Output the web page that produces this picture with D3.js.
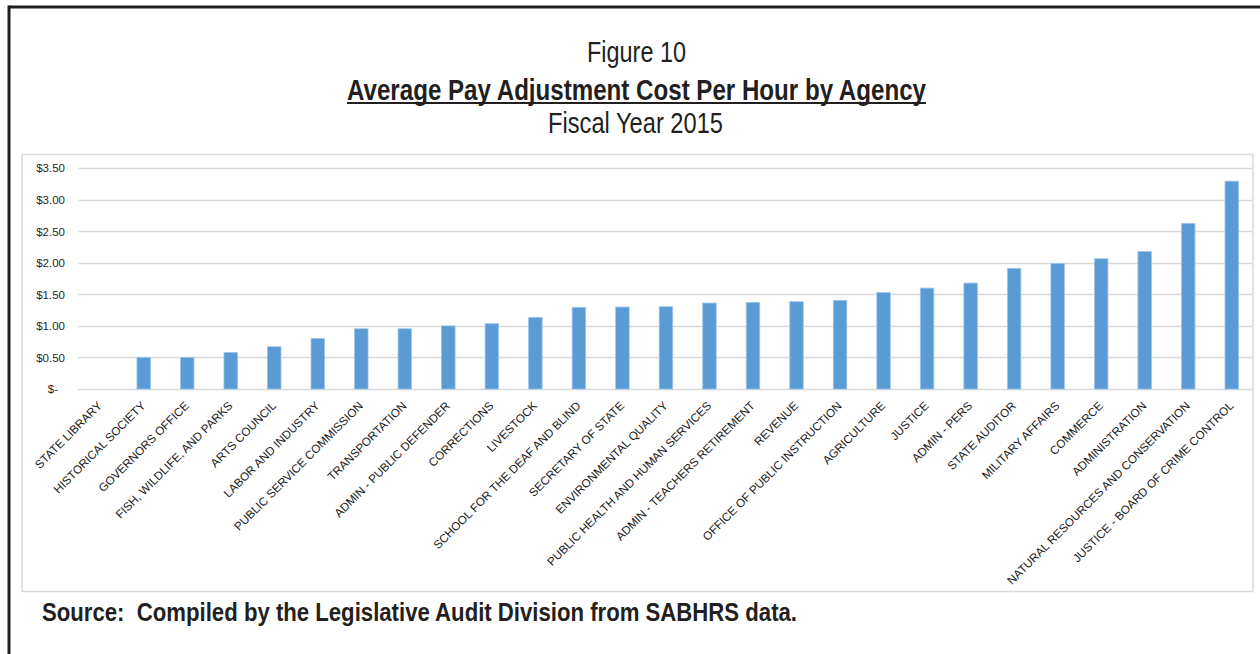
<!DOCTYPE html>
<html>
<head>
<meta charset="utf-8">
<script src="https://cdn.jsdelivr.net/npm/d3@7"></script>
<style>
  html, body { margin: 0; padding: 0; background: #fff; }
  svg { display: block; }
</style>
</head>
<body>
<svg id="chart" width="1260" height="654"></svg>
<script>
const categories = [
  "STATE LIBRARY", "HISTORICAL SOCIETY", "GOVERNORS OFFICE", "FISH, WILDLIFE, AND PARKS",
  "ARTS COUNCIL", "LABOR AND INDUSTRY", "PUBLIC SERVICE COMMISSION", "TRANSPORTATION",
  "ADMIN - PUBLIC DEFENDER", "CORRECTIONS", "LIVESTOCK", "SCHOOL FOR THE DEAF AND BLIND",
  "SECRETARY OF STATE", "ENVIRONMENTAL QUALITY", "PUBLIC HEALTH AND HUMAN SERVICES",
  "ADMIN - TEACHERS RETIREMENT", "REVENUE", "OFFICE OF PUBLIC INSTRUCTION", "AGRICULTURE",
  "JUSTICE", "ADMIN - PERS", "STATE AUDITOR", "MILITARY AFFAIRS", "COMMERCE",
  "ADMINISTRATION", "NATURAL RESOURCES AND CONSERVATION", "JUSTICE - BOARD OF CRIME CONTROL"
];
const values = [
  0.00, 0.50, 0.50, 0.58,
  0.67, 0.80, 0.955, 0.955,
  1.00, 1.035, 1.135, 1.295,
  1.30, 1.305, 1.363,
  1.374, 1.384, 1.406, 1.532,
  1.60, 1.68, 1.913, 1.99, 2.065,
  2.18, 2.626, 3.296
];
const yTicks = [0, 0.5, 1.0, 1.5, 2.0, 2.5, 3.0, 3.5];
const titleLines = ["Figure 10", "Average Pay Adjustment Cost Per Hour by Agency", "Fiscal Year 2015"];
const sourceText = "Source:  Compiled by the Legislative Audit Division from SABHRS data.";

const svg = d3.select("#chart");
const narrow = "'Liberation Sans Narrow', 'Arial Narrow', 'Liberation Sans', Arial, sans-serif";
const sans = "'Liberation Sans', Arial, Helvetica, sans-serif";

// outer frame (top and left)
svg.append("line").attr("x1", 9).attr("x2", 1260).attr("y1", 7).attr("y2", 7)
  .attr("stroke", "#231f20").attr("stroke-width", 3);
svg.append("line").attr("x1", 9).attr("x2", 9).attr("y1", 5.5).attr("y2", 654)
  .attr("stroke", "#231f20").attr("stroke-width", 3);

// titles
svg.append("text").attr("x", 636.5).attr("y", 62).attr("text-anchor", "middle")
  .attr("font-family", narrow).attr("font-size", 29).attr("fill", "#231f20")
  .attr("textLength", 99).attr("lengthAdjust", "spacingAndGlyphs")
  .text(titleLines[0]);
svg.append("text").attr("x", 636.5).attr("y", 99.5).attr("text-anchor", "middle")
  .attr("font-family", narrow).attr("font-size", 29).attr("font-weight", "bold").attr("fill", "#231f20")
  .attr("textLength", 579).attr("lengthAdjust", "spacingAndGlyphs")
  .text(titleLines[1]);
svg.append("line").attr("x1", 347).attr("x2", 926).attr("y1", 103).attr("y2", 103)
  .attr("stroke", "#231f20").attr("stroke-width", 2);
svg.append("text").attr("x", 635.5).attr("y", 133).attr("text-anchor", "middle")
  .attr("font-family", narrow).attr("font-size", 29).attr("fill", "#231f20")
  .attr("textLength", 175).attr("lengthAdjust", "spacingAndGlyphs")
  .text(titleLines[2]);

// chart area box
svg.append("rect").attr("x", 22).attr("y", 154.5).attr("width", 1231).attr("height", 437)
  .attr("fill", "none").attr("stroke", "#d9d9d9").attr("stroke-width", 1.5);

// scales
const x = d3.scaleBand().domain(categories).range([78.4, 1253.5])
  .paddingInner(0.69).paddingOuter(0.345);
const y = d3.scaleLinear().domain([0, 3.5]).range([389, 168.3]);

// gridlines
svg.append("g").selectAll("line").data(yTicks).join("line")
  .attr("x1", 78).attr("x2", 1253)
  .attr("y1", d => Math.round(y(d)) + 0.5).attr("y2", d => Math.round(y(d)) + 0.5)
  .attr("stroke", "#d9d9d9").attr("stroke-width", 1.3);

// y axis labels
const fmt = v => v === 0 ? "$-" : d3.format("$.2f")(v);
const yAxis = d3.axisLeft(y).tickValues(yTicks).tickFormat(fmt).tickSize(0).tickPadding(0);
const gy = svg.append("g").attr("transform", "translate(65,0)").call(yAxis);
gy.select(".domain").remove();
gy.selectAll("text").attr("font-family", sans).attr("font-size", 11.5).attr("fill", "#262626")
  .attr("dx", d => d === 0 ? -7 : 0);

// bars
svg.append("g").selectAll("rect").data(values).join("rect")
  .attr("x", (d, i) => x(categories[i]))
  .attr("width", x.bandwidth())
  .attr("y", d => y(d))
  .attr("height", d => y(0) - y(d))
  .attr("fill", "#5b9bd5")
  .attr("stroke", "#9cc3e8").attr("stroke-width", 0.8)
  .attr("display", d => d > 0 ? null : "none");

// category labels
svg.append("g").selectAll("text").data(categories).join("text")
  .attr("transform", d => `translate(${x(d) + x.bandwidth() / 2 + 2.5},406.5) rotate(-45)`)
  .attr("text-anchor", "end")
  .attr("font-family", sans).attr("font-size", 11.7).attr("fill", "#1a1a1a")
  .text(d => d);

// source
svg.append("text").attr("x", 42).attr("y", 621)
  .attr("xml:space", "preserve").style("white-space", "pre")
  .attr("font-family", narrow).attr("font-size", 26).attr("font-weight", "bold").attr("fill", "#231f20")
  .attr("textLength", 755).attr("lengthAdjust", "spacingAndGlyphs")
  .text(sourceText);
</script>
</body>
</html>
